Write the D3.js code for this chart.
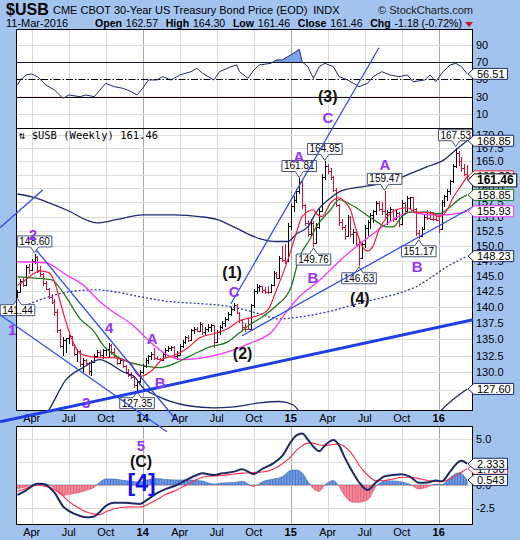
<!DOCTYPE html>
<html><head><meta charset="utf-8">
<script src="https://cdn.jsdelivr.net/npm/d3@7/dist/d3.min.js"></script>
<style>html,body{margin:0;padding:0;background:#a3c3ef;}svg{display:block;}</style>
</head><body>
<svg id="chart" width="520" height="540"></svg>
<script>
// ---------------- DATA ----------------
const opens=[141.8,142.4,144.1,143.5,146.4,145.9,147.4,148.1,145.9,145.2,
143.8,142.9,141.6,140.8,139.2,136.4,134.0,134.9,135.1,135.4,
134.1,132.7,133.2,131.2,131.8,131.4,130.2,131.6,132.4,133.0,
132.6,133.3,133.5,134.1,133.0,132.4,131.4,131.8,130.9,130.0,
129.6,129.4,128.1,128.7,130.1,131.0,131.9,132.4,132.8,132.2,
132.0,131.9,132.8,133.4,133.7,133.8,132.4,132.6,134.0,134.6,
135.3,134.9,136.3,136.6,136.2,137.3,136.0,136.6,136.9,137.1,
134.6,136.0,136.9,137.5,138.1,138.9,139.7,140.3,139.0,137.9,
136.9,136.6,136.5,140.2,142.5,143.2,143.3,142.6,142.4,142.3,
143.5,145.4,144.7,147.9,147.6,147.4,153.3,156.8,158.0,159.6,
161.2,157.0,153.8,152.0,153.9,150.5,153.2,156.0,162.0,164.2,
163.1,162.0,159.8,157.0,154.0,153.2,151.6,154.9,151.9,152.4,
150.3,147.9,150.2,153.0,154.1,155.2,155.9,157.4,156.4,156.0,
155.4,155.8,156.3,154.5,155.6,153.7,157.4,155.9,158.2,158.4,
156.4,152.2,151.6,152.9,154.9,154.7,154.6,154.5,154.4,152.8,
157.6,158.6,159.6,161.3,164.1,166.6,165.0,163.8,162.57];
const highs=[142.6,144.5,144.7,146.8,146.9,147.8,148.60,148.2,146.6,145.5,
144.1,143.0,142.0,141.3,139.6,136.6,135.3,135.2,135.6,135.5,
134.3,133.5,133.4,132.1,132.0,131.6,131.9,132.8,133.3,133.4,
133.5,133.7,134.4,134.3,133.6,132.5,132.0,131.9,131.1,130.5,
130.0,129.5,128.9,130.4,131.3,132.2,132.6,133.0,133.7,132.5,
132.2,133.0,133.6,134.0,133.9,134.0,133.2,134.3,134.8,135.5,
135.6,136.6,136.8,136.9,137.6,137.4,136.9,137.3,137.3,137.2,
136.3,137.2,137.8,138.4,139.2,140.0,140.6,140.4,139.2,138.1,
137.5,138.2,140.5,142.9,143.6,143.5,143.4,143.2,143.3,143.7,
145.8,145.6,148.2,150.0,150.2,153.8,157.3,158.6,159.9,161.81,
161.6,157.3,154.4,154.6,154.2,153.8,156.4,162.6,164.95,164.5,
163.8,162.2,160.0,157.2,154.6,153.5,155.3,155.1,152.8,152.6,
151.2,150.5,153.5,154.4,155.6,156.2,157.8,157.7,157.6,159.47,
156.2,156.6,156.4,156.2,155.8,158.0,157.5,158.6,158.5,158.5,
156.5,152.6,153.2,155.2,156.2,156.0,155.8,155.5,155.3,158.0,
158.9,159.9,161.6,164.5,167.53,166.9,165.8,164.4,164.30];
const lows=[141.44,142.2,143.1,143.3,145.3,145.7,146.9,145.4,144.8,143.4,
142.6,141.2,140.4,138.6,135.9,133.6,132.4,132.9,134.2,133.9,
132.4,131.5,130.8,129.9,131.0,129.6,129.5,131.4,132.1,132.2,
132.0,132.4,132.3,132.6,132.1,131.1,131.2,130.6,129.7,129.3,
129.1,127.7,127.35,128.4,129.7,130.7,131.3,131.9,131.9,131.9,
131.8,131.7,132.2,133.0,133.2,132.0,131.9,132.4,133.6,134.2,
134.6,134.7,135.8,136.0,136.0,135.6,135.4,136.1,136.0,133.6,
134.4,135.6,136.6,136.8,137.8,138.6,139.3,138.8,137.5,136.4,
136.1,136.3,136.4,139.8,142.1,142.3,142.2,142.0,142.1,142.2,
143.3,144.4,144.6,147.2,146.9,147.2,152.6,155.8,157.4,159.0,
156.4,153.4,151.4,151.7,149.76,150.2,152.9,155.8,161.5,162.6,
161.5,159.4,156.6,153.4,152.6,151.0,151.4,151.4,150.2,149.8,
146.63,147.7,149.6,151.6,152.8,153.8,155.2,155.9,155.2,154.8,
153.6,154.2,154.0,154.4,153.2,153.5,155.2,155.7,156.2,155.8,
151.6,151.17,151.4,152.6,154.4,154.4,154.3,154.3,152.2,152.6,
156.6,157.8,158.9,161.0,163.8,164.2,163.0,162.2,161.46];
const closes=[142.4,144.1,143.5,146.4,145.9,147.4,148.1,145.9,145.2,143.8,
142.9,141.6,140.8,139.2,136.4,134.0,134.9,135.1,135.4,134.1,
132.7,133.2,131.2,131.8,131.4,130.2,131.6,132.4,133.0,132.6,
133.3,133.5,134.1,133.0,132.4,131.4,131.8,130.9,130.0,129.6,
129.4,128.1,128.7,130.1,131.0,131.9,132.4,132.8,132.2,132.0,
131.9,132.8,133.4,133.7,133.8,132.4,132.6,134.0,134.6,135.3,
134.9,136.3,136.6,136.2,137.3,136.0,136.6,136.9,137.1,134.6,
136.0,136.9,137.5,138.1,138.9,139.7,140.3,139.0,137.9,136.9,
136.6,136.5,140.2,142.5,143.2,143.3,142.6,142.4,142.3,143.5,
145.4,144.7,147.9,147.6,147.4,153.3,156.8,158.0,159.6,161.2,
157.0,153.8,152.0,153.9,150.5,153.2,156.0,162.0,164.2,163.1,
162.0,159.8,157.0,154.0,153.2,151.6,154.9,151.9,152.4,150.3,
147.9,150.2,153.0,154.1,155.2,155.9,157.4,156.4,156.0,155.4,
155.8,156.3,154.5,155.6,153.7,157.4,155.9,158.2,158.4,156.4,
152.2,151.6,152.9,154.9,154.7,154.6,154.5,154.4,152.8,157.6,
158.6,159.6,161.3,164.1,166.6,165.0,163.8,162.64,161.46];

// overlays (week index -> value)
const redWeeks=[0,2,5,8,11,13,15,17,20,22,26,29,33,37,40,41,43,47,51,55,60,64,69,74,78,82,85,88,91,95,98,100,104,105,107,110,113,115,117,119,121,123,125,127,130,133,137,140,145,148,151,153,156,158];
const redValues=[143.4,144.0,145.15,145.8,145.5,144.0,140.8,137.65,134.1,132.8,132.3,132.2,132.2,131.9,131.3,130.4,129.4,130.2,132.0,132.5,133.7,135.2,135.8,136.6,137.8,138.3,138.7,139.5,142.7,147.6,152.2,155.0,156.2,155.5,155.0,157.4,158.3,157.6,156.2,152.7,150.0,149.1,150.0,152.7,155.0,156.2,156.55,155.7,155.7,155.0,156.2,158.3,160.6,162.2];
const greenWeeks=[0,6,12,14,17,22,27,30,34,38,43,50,55,60,67,74,78,82,86,91,96,99,103,105,110,113,116,119,125,130,132,135,138,144,148,152,155,158];
const greenValues=[144.8,144.6,144.3,143.5,141.6,138.1,136.1,134.1,132.6,131.7,131.1,130.7,131.3,132.3,133.7,134.6,135.95,137.3,138.4,140.2,143.0,147.96,151.3,153.2,156.2,158.0,157.4,156.55,154.5,153.2,153.2,155.0,155.8,155.8,155.5,156.7,158.0,158.85];
const magentaWeeks=[0,10,17,23,29,34,40,43,47,54,58,69,75,82,89,95,99,105,110,114,119,126,132,138,144,150,156,158];
const magentaValues=[147.3,147.1,145.15,143.5,140.8,139.05,137.3,136.1,134.4,132.3,131.9,132.5,133.2,134.4,135.95,139.5,141.6,143.8,145.97,147.8,149.8,152.4,154.5,155.8,155.3,155.3,155.7,155.93];
const upperWeeks=[0,5,17,28,35,44,55,64,70,76,85,91,95,98,102,105,110,114,121,126,132,138,144,150,154,158];
const upperValues=[159.0,158.5,156.2,153.9,154.5,155.3,155.3,155.0,154.5,153.2,151.2,150.7,150.7,152.0,153.2,155.8,158.3,159.6,160.3,160.7,161.4,162.7,164.0,165.3,167.1,168.85];
const middleWeeks=[0,5,15,22,28,34,43,54,64,75,85,92,99,109,118,124,132,140,144,151,158];
const middleValues=[139.7,140.6,142.1,142.6,142.7,142.4,141.6,140.8,140.5,140.0,138.9,138.1,138.4,139.2,140.3,141.0,141.9,143.2,144.3,146.5,148.23];
const lowerWeeks=[0,5,9,11,17,23,29,32,37,41,44,49,60,69,76,85,92,97,99,103,115,130,143,149,154,158];
const lowerValues=[121.5,122.0,123.5,124.6,128.9,130.7,131.9,131.4,130.1,129.4,127.8,126.6,125.2,124.9,125.05,125.6,125.8,125.3,124.4,122.5,119.0,118.0,121.5,124.6,126.4,127.6];

const rsiWeeks=[0,1,3,5,7,10,13,16,18,22,24,27,29,31,34,37,40,42,44,46,49,51,54,57,61,63,65,69,71,75,77,78,81,83,85,89,91,93,97,99,100,102,104,106,108,111,113,116,118,120,123,125,128,131,134,137,139,143,145,147,149,152,154,156,158];
const rsiValues=[43.6,49.4,55.2,56.4,53.3,43.6,37.8,28.1,32,30,32,30,37.8,45.6,41.6,39.8,35.8,32,39.8,49.4,49.4,53.3,49.4,55.2,59.1,63,57.2,49.4,59.1,64.9,66.9,59.1,51.4,61,66.9,68.8,72.7,72.7,80.5,85.1,70.7,64.9,51.4,64.9,68.8,64.9,53.3,49.4,45.6,41.6,45.6,53.3,59.1,55.2,53.3,55.2,47.4,49.4,55.2,47.4,57.2,66.9,68.8,64.9,56.51];

const macdWeeks=[0,3,7,9,13,16,18,22,24,27,29,31,34,37,40,43,45,49,52,56,59,63,65,69,72,76,79,83,86,90,93,96,98,100,102,104,106,108,111,113,115,118,120,123,126,129,132,135,138,141,144,147,149,152,155,156,158];
const macdValues=[-1.1,-0.6,0.15,0.1,-0.85,-2.35,-2.85,-3.4,-3.55,-3.45,-2.93,-2.3,-1.94,-1.94,-2.0,-2.09,-1.75,-0.9,-0.45,0.0,0.5,1.1,1.28,1.1,1.28,1.47,1.72,1.2,1.78,2.4,3.2,4.7,5.45,5.65,5.0,4.2,3.7,4.35,4.95,4.35,3.0,1.29,0.3,-0.55,0.3,0.95,1.1,1.18,0.9,0.25,0.28,0.5,0.4,1.46,2.55,2.65,2.333];
const signalValues=[-0.7,-0.38,0.0,-0.1,-0.5,-1.2,-1.8,-2.6,-2.95,-3.2,-3.25,-2.95,-2.6,-2.45,-2.4,-2.42,-2.25,-1.6,-1.05,-0.55,-0.05,0.6,0.85,1.0,1.05,1.2,1.3,1.38,1.42,1.75,2.3,3.1,3.8,4.3,4.6,4.6,4.4,4.35,4.45,4.5,4.2,3.2,2.2,1.1,0.45,0.5,0.65,0.85,0.85,0.7,0.5,0.4,0.36,0.65,1.2,1.4,1.79];

const priceTicks=[127.5,130,132.5,135,137.5,140,142.5,145,147.5,150,152.5,155,157.5,160,162.5,165,167.5,170];
const rsiTicks=[10,30,50,70,90];
const macdTicks=[-2.5,0,2.5,5];

// labelled extremes on the price panel: week, value, side
const extremes=[{w:6,v:148.60,up:true},{w:0,v:141.44,up:false},{w:42,v:127.35,up:false},{w:99,v:161.81,up:true},
 {w:108,v:164.95,up:true},{w:104,v:149.76,up:false},{w:120,v:146.63,up:false},{w:129,v:159.47,up:true},
 {w:141,v:151.17,up:false},{w:154,v:167.53,up:true}];
// wave annotations (week position, value on panel's own scale)
const waveLabels=[
 {t:"2",w:5.4,v:151.9,p:"main",c:"purple"},{t:"1",w:-1.9,v:136.4,p:"main",c:"purple"},
 {t:"3",w:24.1,v:125.6,p:"main",c:"purple"},{t:"4",w:32.2,v:136.7,p:"main",c:"purple"},
 {t:"A",w:47.3,v:135.0,p:"main",c:"purple"},{t:"B",w:50.1,v:128.6,p:"main",c:"purple"},
 {t:"C",w:76.1,v:142.4,p:"main",c:"purple"},{t:"(1)",w:75.4,v:145.6,p:"main",c:"black"},
 {t:"(2)",w:79.1,v:132.8,p:"main",c:"black"},{t:"A",w:98.9,v:165.8,p:"main",c:"purple"},
 {t:"B",w:103.8,v:144.66,p:"main",c:"purple"},{t:"C",w:109.1,v:173.3,p:"main",c:"purple"},
 {t:"(3)",w:109.0,v:30.8,p:"rsi",c:"black"},{t:"(4)",w:120.3,v:141.3,p:"main",c:"black"},
 {t:"A",w:129.1,v:164.3,p:"main",c:"purple"},{t:"B",w:140.4,v:146.5,p:"main",c:"purple"},
 {t:"5",w:43.4,v:4.29,p:"macd",c:"purple"},{t:"(C)",w:43.4,v:2.53,p:"macd",c:"black"},
 {t:"[4]",w:43.6,v:0.22,p:"macd",c:"blue"}];
// hand-drawn trend lines: [week1, price1, week2, price2, thick]
const trendLines=[[-6.15,153.06,8.96,159.76,0],[6.5,149.3,55.7,123.24,0],[-6.15,138.74,52.5,121.58,0],
 [75.0,140.47,127.0,187.54,0],[78.9,135.49,160.05,156.73,0],[-6.15,122.96,160.05,137.96,1]];
const headerItems=[["Open",1],["162.57",0],["High",1],["164.30",0],["Low",1],["161.46",0],["Close",1],["161.46",0],["Chg",1],["-1.18 (-0.72%)",0]];

// ---------------- CHART ----------------
const FONT='"Liberation Sans", Arial, Helvetica, sans-serif';
const svg=d3.select("#chart").attr("font-family",FONT);
svg.append("rect").attr("width",520).attr("height",540).attr("fill","#a3c3ef");
const defs=svg.append("defs");

const L=16,R=473;
const RSI=[29,128],MAIN=[128,410],MACD=[426,524];
const NAVY="#1d2970",PURPLE="#9933ff",TBLUE="#2e4ff0";

const dates=d3.utcFriday.range(new Date(Date.UTC(2013,2,1)),new Date(Date.UTC(2016,2,12)));
const WEEK=6048e5,t0=+dates[0];
const x=d3.scaleUtc().domain([new Date(t0-0.527*WEEK),new Date(t0+160.05*WEEK)]).range([L,R]);
const xw=w=>x(new Date(t0+w*WEEK));
const y=d3.scaleLog().domain([124.6,171.3]).range([MAIN[1],MAIN[0]]);
const ry=d3.scaleLinear().domain([-6.4,108.7]).range([RSI[1],RSI[0]]);
const my=d3.scaleLinear().domain([-4.285,6.48]).range([MACD[1],MACD[0]]);

const qIdx=d3.range(1,dates.length).filter(i=>dates[i].getUTCMonth()!==dates[i-1].getUTCMonth()&&dates[i].getUTCMonth()%3===0);

function clip(id,top,bot){defs.append("clipPath").attr("id",id).append("rect").attr("x",L).attr("y",top).attr("width",R-L).attr("height",bot-top);}
clip("cRsi",RSI[0],RSI[1]);clip("cMain",MAIN[0],MAIN[1]);clip("cMacd",MACD[0],MACD[1]);

function panel(rng){
  const g=svg.append("g");
  g.append("rect").attr("x",L).attr("y",rng[0]).attr("width",R-L).attr("height",rng[1]-rng[0]).attr("fill","#fff");
  qIdx.forEach(i=>{const xx=Math.round(x(dates[i]))+0.5;
    g.append("line").attr("x1",xx).attr("x2",xx).attr("y1",rng[0]).attr("y2",rng[1])
     .attr("stroke",dates[i].getUTCMonth()===0?"#a8a8a8":"#d9d9d9").attr("stroke-width",1);});
  return g;
}
function hgrid(g,vals,sc,color){vals.forEach(v=>{const yy=Math.round(sc(v))+0.5;
  g.append("line").attr("x1",L).attr("x2",R).attr("y1",yy).attr("y2",yy).attr("stroke",color||"#dcdcdc");});}
function border(rng){svg.append("rect").attr("x",L+0.5).attr("y",rng[0]+0.5).attr("width",R-L-1).attr("height",rng[1]-rng[0]).attr("fill","none").attr("stroke","#000");}
function axisLabels(vals,sc,fmt){vals.forEach(v=>svg.append("text").attr("x",476).attr("y",sc(v)).attr("dominant-baseline","central").attr("font-size",11).text(fmt(v)));}
function xLabels(yy){qIdx.forEach(i=>{const m=dates[i].getUTCMonth();
  svg.append("text").attr("x",x(dates[i])).attr("y",yy).attr("text-anchor","middle").attr("dominant-baseline","central")
   .attr("font-size",11).attr("font-weight",m===0?"bold":"normal")
   .text(m===0?d3.utcFormat("%y")(dates[i]):d3.utcFormat("%b")(dates[i]));});}
function tag(yy,text,stroke,bold){
  const g=svg.append("g");
  const t=g.append("text").attr("x",477).attr("y",yy).attr("dominant-baseline","central")
    .attr("font-size",bold?12:11).attr("font-weight",bold?"bold":"normal").text(text);
  const w=t.node().getComputedTextLength(),h=bold?13:11;
  g.insert("path","text").attr("d",`M468,${yy}L474,${yy-h/2}H${478+w+2}V${yy+h/2}H474Z`)
   .attr("fill","#fff").attr("stroke",stroke).attr("stroke-width",1);
}

// ---------- header ----------
svg.append("text").attr("x",6).attr("y",15).attr("font-size",16).attr("font-weight","bold").text("$USB");
const ttl=svg.append("text").attr("x",53).attr("y",14).attr("font-size",11).text("CME CBOT 30-Year US Treasury Bond Price (EOD)");
svg.append("text").attr("x",53+ttl.node().getComputedTextLength()+6).attr("y",14).attr("font-size",11).text("INDX");
svg.append("text").attr("x",473).attr("y",14).attr("font-size",11).attr("text-anchor","end").attr("fill","#222").text("\u00A9 StockCharts.com");
svg.append("text").attr("x",6).attr("y",27).attr("font-size",11).text("11-Mar-2016");
{
  const hg=svg.append("g");
  let cx=95;
  headerItems.forEach((d,k)=>{
    const t=hg.append("text").attr("x",cx).attr("y",27).attr("font-size",11).attr("font-weight",d[1]?"bold":"normal").text(d[0]);
    cx+=t.node().getComputedTextLength()+(d[1]?4:8);
  });
  const scale=(462-95)/(cx-8-95);
  if(scale<1) hg.attr("transform",`translate(${95*(1-scale)},0) scale(${scale},1)`);
}
svg.append("path").attr("d","M465,22H473L469,27Z").attr("fill","#c8102e");

// ---------- RSI panel ----------
const gR=panel(RSI);
hgrid(gR,[10,90],ry);
[30,70].forEach(v=>{const yy=Math.round(ry(v))+0.5;gR.append("line").attr("x1",L).attr("x2",R).attr("y1",yy).attr("y2",yy).attr("stroke","#000");});
{const yy=Math.round(ry(50))+0.5;gR.append("line").attr("x1",L).attr("x2",R).attr("y1",yy).attr("y2",yy).attr("stroke","#000").attr("stroke-dasharray","7,2,1.5,2");}
const rsiPts=rsiWeeks.map((w,k)=>[xw(w),ry(rsiValues[k])]);
defs.append("clipPath").attr("id","cRsiUp").append("rect").attr("x",L).attr("y",RSI[0]).attr("width",R-L).attr("height",ry(70)-RSI[0]);
defs.append("clipPath").attr("id","cRsiDn").append("rect").attr("x",L).attr("y",ry(30)).attr("width",R-L).attr("height",RSI[1]-ry(30));
gR.append("path").attr("clip-path","url(#cRsiUp)").attr("d",d3.area().x(d=>d[0]).y0(ry(70)).y1(d=>d[1])(rsiPts)).attr("fill","#7ba6ea");
gR.append("path").attr("clip-path","url(#cRsiDn)").attr("d",d3.area().x(d=>d[0]).y0(ry(30)).y1(d=>d[1])(rsiPts)).attr("fill","#ee7f8e");
gR.append("g").attr("clip-path","url(#cRsi)").append("path").attr("d",d3.line()(rsiPts)).attr("fill","none").attr("stroke",NAVY).attr("stroke-width",1);
border(RSI);
axisLabels(rsiTicks,ry,d=>String(d));

// ---------- MAIN panel ----------
const gM=panel(MAIN);
hgrid(gM,priceTicks,y);
const gMc=gM.append("g").attr("clip-path","url(#cMain)");
dates.forEach((d,i)=>{
  const xx=Math.round(x(d))+0.5;
  const prev=i>0?closes[i-1]:opens[i];
  const col=closes[i]>=prev?"#000":"#d8103a";
  const g=gMc.append("g").attr("stroke",col).attr("stroke-width",1).attr("shape-rendering","crispEdges");
  g.append("line").attr("x1",xx).attr("x2",xx).attr("y1",y(highs[i])).attr("y2",y(lows[i]));
  g.append("line").attr("x1",xx-1.5).attr("x2",xx).attr("y1",Math.round(y(opens[i]))+0.5).attr("y2",Math.round(y(opens[i]))+0.5);
  g.append("line").attr("x1",xx).attr("x2",xx+2).attr("y1",Math.round(y(closes[i]))+0.5).attr("y2",Math.round(y(closes[i]))+0.5);
});
function ov(weeks,vals,color,width,dash){
  const pts=weeks.map((w,k)=>[xw(w),y(vals[k])]);
  const p=gMc.append("path").attr("d",d3.line().curve(d3.curveMonotoneX)(pts)).attr("fill","none").attr("stroke",color).attr("stroke-width",width);
  if(dash)p.attr("stroke-dasharray",dash);
}
ov(upperWeeks,upperValues,NAVY,1.3);
ov(lowerWeeks,lowerValues,NAVY,1.3);
ov(middleWeeks,middleValues,"#2a3aa8",1.3,"2,2");
ov(magentaWeeks,magentaValues,"#ff33ff",1.3);
ov(greenWeeks,greenValues,"#1e7a1e",1.3);
ov(redWeeks,redValues,"#f0203c",1.2);
gM.append("text").attr("x",19).attr("y",139).attr("font-family",'"DejaVu Sans Mono", monospace').attr("font-size",10.5).text("\u21C5 $USB (Weekly) 161.46");
extremes.forEach(e=>{
  const cx=xw(e.w), tip=e.up?y(e.v)-1:y(e.v)+1, h=11, n=6;
  const g=gM.append("g");
  const t=g.append("text").attr("x",cx).attr("text-anchor","middle").attr("font-size",10).text(e.v.toFixed(2));
  const w=t.node().getComputedTextLength()+4;
  const by=e.up?tip-n-h:tip+n;
  t.attr("y",by+h/2).attr("dominant-baseline","central");
  const dpath=e.up?`M${cx-w/2},${by}H${cx+w/2}V${by+h}H${cx+4}L${cx},${tip}L${cx-4},${by+h}H${cx-w/2}Z`
                  :`M${cx-w/2},${by}H${cx-4}L${cx},${tip}L${cx+4},${by}H${cx+w/2}V${by+h}H${cx-w/2}Z`;
  g.insert("path","text").attr("d",dpath).attr("fill","#fff").attr("stroke","#4a5478").attr("stroke-width",1);
});
border(MAIN);
axisLabels(priceTicks,y,d=>d.toFixed(1));

xLabels(418);
xLabels(532);

// ---------- MACD panel ----------
const gD=panel(MACD);
hgrid(gD,macdTicks,my);
const hist=macdValues.map((v,k)=>v-signalValues[k]);
function pat(id,fill,line){const p=defs.append("pattern").attr("id",id).attr("patternUnits","userSpaceOnUse")
  .attr("x",xw(0)-1.423).attr("y",0).attr("width",2.846).attr("height",540);
  p.append("rect").attr("width",2.846).attr("height",540).attr("fill",fill);
  p.append("rect").attr("width",0.7).attr("height",540).attr("fill",line);}
pat("pBlue","#6d9de2","#3c66b8");pat("pRed","#f28a98","#d9506a");
defs.append("clipPath").attr("id","cPos").append("rect").attr("x",L).attr("y",MACD[0]).attr("width",R-L).attr("height",my(0)-MACD[0]);
defs.append("clipPath").attr("id","cNeg").append("rect").attr("x",L).attr("y",my(0)).attr("width",R-L).attr("height",MACD[1]-my(0));
const hArea=d3.area().x((d,k)=>xw(macdWeeks[k])).y0(my(0)).y1(d=>my(d)).curve(d3.curveMonotoneX);
gD.append("path").attr("clip-path","url(#cPos)").attr("d",hArea(hist)).attr("fill","url(#pBlue)").attr("stroke","#3c66b8").attr("stroke-width",0.6);
gD.append("path").attr("clip-path","url(#cNeg)").attr("d",hArea(hist)).attr("fill","url(#pRed)").attr("stroke","#d9506a").attr("stroke-width",0.6);
const gDc=gD.append("g").attr("clip-path","url(#cMacd)");
gDc.append("path").attr("d",d3.line().curve(d3.curveMonotoneX)(macdWeeks.map((w,k)=>[xw(w),my(signalValues[k])]))).attr("fill","none").attr("stroke","#ff2a48").attr("stroke-width",1.1);
gDc.append("path").attr("d",d3.line().curve(d3.curveMonotoneX)(macdWeeks.map((w,k)=>[xw(w),my(macdValues[k])]))).attr("fill","none").attr("stroke","#1b2a66").attr("stroke-width",2);
border(MACD);
axisLabels(macdTicks,my,d=>d.toFixed(1));

// ---------- trend lines & wave labels ----------
trendLines.forEach(l=>svg.append("line").attr("x1",xw(l[0])).attr("y1",y(l[1])).attr("x2",xw(l[2])).attr("y2",y(l[3]))
  .attr("stroke",l[4]?"#1f3fe6":TBLUE).attr("stroke-width",l[4]?3:1.3));
const colors={purple:PURPLE,black:"#111",blue:"#1414f0"};
waveLabels.forEach(a=>{
  const sc=a.p==="main"?y:a.p==="rsi"?ry:my;
  const size=a.t==="[4]"?23:(a.c==="black"?16:15);
  svg.append("text").attr("x",xw(a.w)).attr("y",sc(a.v)).attr("text-anchor","middle").attr("dominant-baseline","central")
   .attr("font-size",size).attr("font-weight","bold").attr("fill",colors[a.c]).text(a.t);
});

// ---------- right-side value tags ----------
const last=a=>a[a.length-1];
tag(ry(last(rsiValues)),last(rsiValues).toFixed(2),NAVY);
tag(y(last(upperValues)),last(upperValues).toFixed(2),NAVY);
tag(y(last(redValues)),last(redValues).toFixed(2),"#f0203c");
tag(y(last(closes)),last(closes).toFixed(2),"#000",true);
tag(y(last(greenValues)),last(greenValues).toFixed(2),"#1e7a1e");
tag(y(last(magentaValues)),last(magentaValues).toFixed(2),"#ff33ff");
tag(y(last(middleValues)),last(middleValues).toFixed(2),NAVY);
tag(y(last(lowerValues)),last(lowerValues).toFixed(2),NAVY);
tag(my(last(signalValues)),last(signalValues).toFixed(3),"#ff2a48");
tag(my(last(macdValues)),last(macdValues).toFixed(3),NAVY);
tag(my(last(hist)),last(hist).toFixed(3),NAVY);
</script>
</body></html>
